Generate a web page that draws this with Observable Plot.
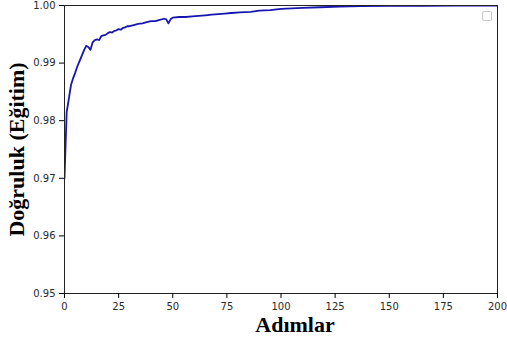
<!DOCTYPE html>
<html>
<head>
<meta charset="utf-8">
<script src="https://cdn.jsdelivr.net/npm/d3@7"></script>
<script src="https://cdn.jsdelivr.net/npm/@observablehq/plot@0.6"></script>
<style>
  html, body { margin: 0; padding: 0; background: #fff; }
  #wrap { position: relative; width: 507px; height: 347px; }
  #wrap svg { display: block; }
  g[aria-label="y-axis label"] text {
    font-family: "Liberation Serif", "Times New Roman", serif;
    font-weight: bold; font-size: 22px; fill: #000;
  }
  g[aria-label="x-axis tick label"] text, g[aria-label="y-axis tick label"] text { fill: #2a2a2a; }
  #legendbox { position: absolute; left: 482px; top: 11px; width: 8px; height: 8px;
    border: 1px solid #c8c8c8; border-radius: 2px; background: #fff; }
</style>
</head>
<body>
<div id="wrap"></div>
<script>
const steps = [0,1,2,3,4,5,6,7,8,9,10,11,12,13,14,15,16,17,18,19,20,21,22,23,24,25,26,27,28,29,30,32,34,36,38,40,42,44,46,47,48,49,50,53,56,59,62,65,68,71,74,77,81,86,90,95,100,105,110,118,127,137,150,165,180,200];
const accuracy = [0.9700,0.9815,0.9838,0.9862,0.9874,0.9884,0.9895,0.9904,0.9913,0.9922,0.9930,0.9928,0.9923,0.9936,0.9940,0.9941,0.9940,0.9947,0.9948,0.9949,0.9952,0.9954,0.9953,0.9956,0.9957,0.9959,0.9958,0.9961,0.9962,0.9964,0.9964,0.9966,0.9968,0.9969,0.9971,0.9973,0.9973,0.9975,0.9977,0.9976,0.9969,0.9976,0.9979,0.9980,0.9980,0.9981,0.9982,0.9983,0.9984,0.9985,0.9986,0.9987,0.9988,0.9989,0.9991,0.9992,0.9994,0.9995,0.9996,0.9997,0.9998,0.9999,0.99993,0.99996,0.99997,0.99998];
const xTicks = [0,25,50,75,100,125,150,175,200];
const yTicks = [0.95,0.96,0.97,0.98,0.99,1.00];
const xLabel = "Adımlar";
const yLabel = "Doğruluk (Eğitim)";

const data = steps.map((s, i) => ({step: s, acc: accuracy[i]}));

const chart = Plot.plot({
  width: 507,
  height: 347,
  marginLeft: 64,
  marginRight: 10,
  marginTop: 5,
  marginBottom: 54,
  style: {fontFamily: "'DejaVu Sans', sans-serif", fontSize: "10px", background: "#fff"},
  x: {domain: [0, 200]},
  y: {domain: [0.95, 1.0]},
  marks: [
    Plot.line(data, {x: "step", y: "acc", stroke: "#1616b0", strokeWidth: 1.8, clip: true}),
    Plot.frame({stroke: "#222", strokeWidth: 1}),
    Plot.axisX({ticks: xTicks, tickSize: 5, tickPadding: 4, label: null}),
    Plot.text([xLabel], {frameAnchor: "bottom", dx: 14, dy: 38, lineAnchor: "bottom",
      fontFamily: "'Liberation Serif', 'Times New Roman', serif", fontWeight: "bold", fontSize: 22, fill: "#000"}),
    Plot.axisY({ticks: yTicks, tickSize: 5, tickPadding: 4, tickFormat: ".2f", label: yLabel, labelAnchor: "center", labelArrow: "none", labelOffset: 56})
  ]
});
const wrap = document.getElementById("wrap");
wrap.appendChild(chart);
const lb = document.createElement("div");
lb.id = "legendbox";
wrap.appendChild(lb);
</script>
</body>
</html>
